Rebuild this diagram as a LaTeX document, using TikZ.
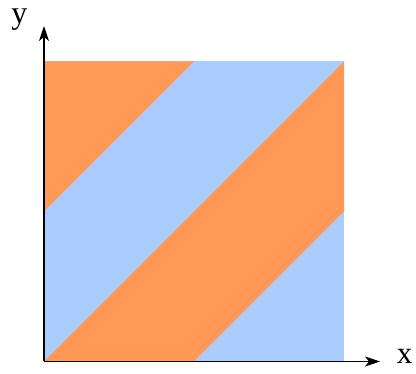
\documentclass[tikz,border=0pt]{standalone}
\usepackage{fontspec}
\setmainfont{Liberation Serif}
\usetikzlibrary{arrows.meta}
\definecolor{stripeorange}{HTML}{FF9955}
\definecolor{stripeblue}{HTML}{AACCFF}
\begin{document}
\begin{tikzpicture}[x=1pt,y=1pt,
  axis/.style={line width=1.6pt,-{Stealth[length=15pt,width=10pt,inset=4pt]}},
  lbl/.style={inner sep=0pt,anchor=base}]
\useasboundingbox (0,0) rectangle (416,374);
% square 300x300, lower-left at (44,12.5)
\coordinate (O) at (44,12.5);
\fill[stripeblue] (44,12.5) rectangle (344,312.5);
\fill[stripeorange] (44,162.5) -- (44,312.5) -- (194,312.5) -- cycle;
\fill[stripeorange] (44,12.5) -- (344,312.5) -- (344,162.5) -- (194,12.5) -- cycle;
\coordinate (ytip) at (44,348);
\coordinate (xtip) at (380,12.5);
\draw[axis] (O) -- (ytip);
\draw[axis] (O) -- (xtip);
\node[lbl,font=\fontsize{32}{36}\selectfont] (ylab) at (19.5,350) {y};
\node[lbl,font=\fontsize{31}{36}\selectfont] (xlab) at (404.5,10) {x};
\end{tikzpicture}
\end{document}
